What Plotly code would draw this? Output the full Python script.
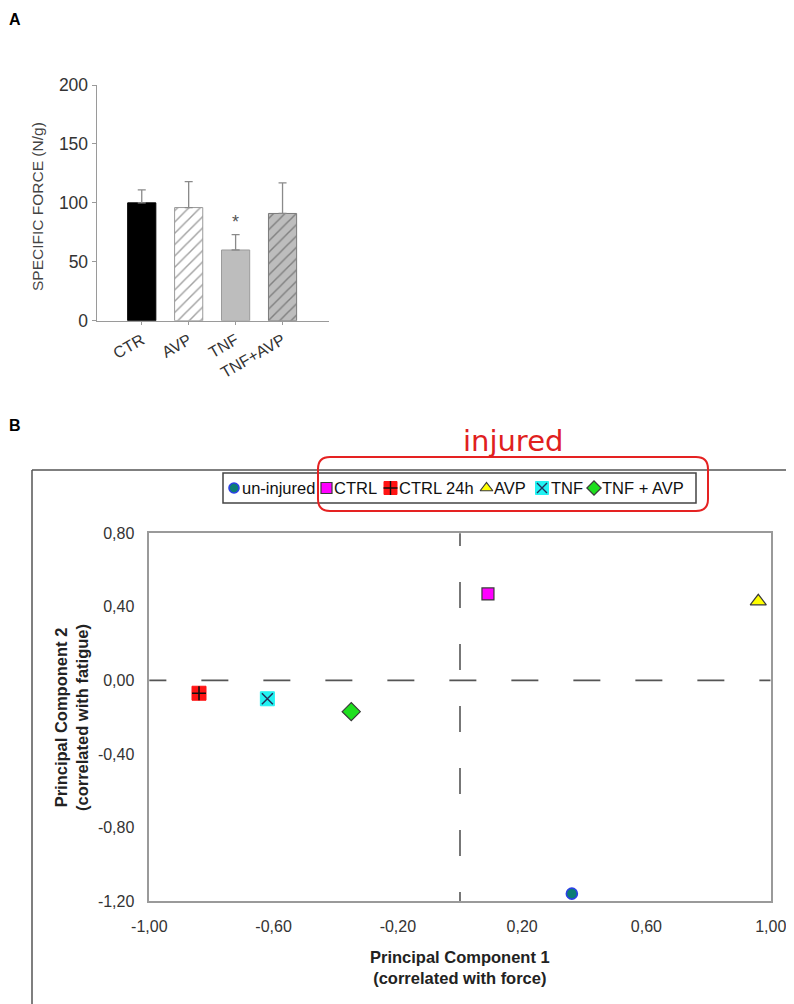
import plotly.graph_objects as go

# The page body adds an 8px margin; the figure is sized/placed so that the
# layout below can be written in reference-image pixel coordinates.
OFF = 8
W, H = 794 - OFF, 1004 - OFF


def px(x):
    return (x - OFF) / W


def py(y):
    return 1 - (y - OFF) / H


# ---------------- Panel A data ----------------
groups = ["CTR", "AVP", "TNF", "TNF+AVP"]
force_mean = [100, 96, 60, 91]
force_err = [11, 22, 13, 26]
force_ticks = [0, 50, 100, 150, 200]
signif_group = "TNF"
signif_y = 84

# ---------------- Panel B data ----------------
pca_names = ["un-injured", "CTRL", "CTRL 24h", "AVP", "TNF", "TNF + AVP"]
pc1 = [0.36, 0.09, -0.84, 0.96, -0.62, -0.35]
pc2 = [-1.16, 0.47, -0.07, 0.43, -0.10, -0.17]
pc1_ticks = [-1.0, -0.6, -0.2, 0.2, 0.6, 1.0]
pc1_ticktext = ["-1,00", "-0,60", "-0,20", "0,20", "0,60", "1,00"]
pc2_ticks = [0.8, 0.4, 0.0, -0.4, -0.8, -1.2]
pc2_ticktext = ["0,80", "0,40", "0,00", "-0,40", "-0,80", "-1,20"]

# ---------------- styles ----------------
bar_fill = ["#000000", "#ffffff", "#bdbdbd", "#bdbdbd"]
bar_line = ["#000000", "#9a9a9a", "#9a9a9a", "#7a7a7a"]
bar_pattern = ["", "/", "", "/"]
bar_pattern_fg = ["#000000", "#a0a0a0", "#bdbdbd", "#6a6a6a"]

pt_style = {
    "un-injured": dict(symbol="circle", color="#0b7d74", line="#2a40e6", lw=1.6, size=11),
    "CTRL": dict(symbol="square", color="#ff00ff", line="#3a3a3a", lw=1.2, size=12),
    "CTRL 24h": dict(symbol="square", color="#ff1414", line="#ff1414", lw=1, size=14),
    "AVP": dict(symbol="triangle-up", color="#ffff00", line="#3a3a3a", lw=1.2, size=14),
    "TNF": dict(symbol="square", color="#22f2f2", line="#22f2f2", lw=1, size=14),
    "TNF + AVP": dict(symbol="diamond", color="#1ee01e", line="#3a3a3a", lw=1.2, size=14),
}
overlay = {
    "CTRL 24h": dict(symbol="cross-thin", color="#111111", size=10, lw=1.6),
    "TNF": dict(symbol="x-thin", color="#22305a", size=11, lw=1.5),
}

fig = go.Figure()

# ---- Panel A bars ----
fig.add_trace(go.Bar(
    x=groups, y=force_mean,
    width=0.6,
    marker=dict(
        color=bar_fill,
        line=dict(color=bar_line, width=1),
        pattern=dict(shape=bar_pattern, fgcolor=bar_pattern_fg, bgcolor=bar_fill,
                     size=8, solidity=0.18),
    ),
    error_y=dict(type="data", array=force_err, arrayminus=[0] * len(force_err),
                 symmetric=False, color="#8a8a8a", thickness=1.3, width=4),
    xaxis="x", yaxis="y", showlegend=False,
))

# ---- Panel B scatter ----
for name, x, y in zip(pca_names, pc1, pc2):
    s = pt_style[name]
    fig.add_trace(go.Scatter(
        x=[x], y=[y], mode="markers", name=name,
        marker=dict(symbol=s["symbol"], color=s["color"], size=s["size"],
                    line=dict(color=s["line"], width=s["lw"])),
        xaxis="x2", yaxis="y2", showlegend=False,
    ))
    if name in overlay:
        o = overlay[name]
        fig.add_trace(go.Scatter(
            x=[x], y=[y], mode="markers",
            marker=dict(symbol=o["symbol"], color=o["color"], size=o["size"],
                        line=dict(color=o["color"], width=o["lw"])),
            xaxis="x2", yaxis="y2", showlegend=False, hoverinfo="skip",
        ))

# ---- custom legend (pixel-space axes) ----
leg_x0, leg_x1, leg_y0, leg_y1 = 223, 696, 473, 503
leg_sym_x = [234, 326.5, 390.5, 486.5, 542, 594]
leg_txt_x = [240, 332, 397, 492, 549, 600]
leg_sizes = [10, 11, 13, 11, 13, 11]
for i, name in enumerate(pca_names):
    s = pt_style[name]
    fig.add_trace(go.Scatter(
        x=[leg_sym_x[i]], y=[0.5], mode="markers",
        marker=dict(symbol=s["symbol"], color=s["color"], size=leg_sizes[i],
                    line=dict(color=s["line"], width=s["lw"])),
        xaxis="x3", yaxis="y3", showlegend=False, hoverinfo="skip",
    ))
    if name in overlay:
        o = overlay[name]
        fig.add_trace(go.Scatter(
            x=[leg_sym_x[i]], y=[0.5], mode="markers",
            marker=dict(symbol=o["symbol"], color=o["color"], size=leg_sizes[i] - 3,
                        line=dict(color=o["color"], width=1.4)),
            xaxis="x3", yaxis="y3", showlegend=False, hoverinfo="skip",
        ))

annotations = []
for i, name in enumerate(pca_names):
    annotations.append(dict(
        x=leg_txt_x[i], y=0.5, xref="x3", yref="y3", text=name, showarrow=False,
        xanchor="left", yanchor="middle",
        font=dict(family="Liberation Sans, Arial, sans-serif", size=16.5, color="#111111"),
    ))


def label(x, y, text, size, color, angle=0, family="Liberation Sans, Arial", xref="paper", yref="paper"):
    return dict(x=x, y=y, xref=xref, yref=yref, text=text, showarrow=False,
                textangle=angle, xanchor="center", yanchor="middle", align="center",
                font=dict(family=family, size=size, color=color))


annotations += [
    label(px(15), py(19), "<b>A</b>", 16, "#000"),
    label(px(15), py(425), "<b>B</b>", 16, "#000"),
    label(px(37), py(207), "SPECIFIC FORCE (N/g)", 15.5, "#444", angle=-90),
    label(signif_group, signif_y, "*", 18, "#555", xref="x", yref="y"),
    label(px(460), py(967.5), "<b>Principal Component 1</b><br><b>(correlated with force)</b>",
          16.5, "#222"),
    label(px(71), py(717), "<b>Principal Component 2</b><br><b>(correlated with fatigue)</b>",
          16.5, "#222", angle=-90),
    label(px(513), py(441), "injured", 29, "#e0201e", family="DejaVu Sans, sans-serif"),
]

# rounded rectangle path for "injured" bracket
rx0, rx1, ry0, ry1, r = 318, 708, 457, 511, 12


def P(x, y):
    return f"{px(x):.5f},{py(y):.5f}"


rr_path = (f"M {P(rx0 + r, ry0)} L {P(rx1 - r, ry0)} Q {P(rx1, ry0)} {P(rx1, ry0 + r)} "
           f"L {P(rx1, ry1 - r)} Q {P(rx1, ry1)} {P(rx1 - r, ry1)} "
           f"L {P(rx0 + r, ry1)} Q {P(rx0, ry1)} {P(rx0, ry1 - r)} "
           f"L {P(rx0, ry0 + r)} Q {P(rx0, ry0)} {P(rx0 + r, ry0)} Z")

shapes = [
    # outer frame of panel B
    dict(type="line", xref="paper", yref="paper", x0=px(32), x1=px(794), y0=py(470), y1=py(470),
         line=dict(color="#555", width=1.5)),
    dict(type="line", xref="paper", yref="paper", x0=px(32), x1=px(32), y0=py(470), y1=py(1004),
         line=dict(color="#555", width=1.5)),
    # legend box
    dict(type="rect", xref="paper", yref="paper", x0=px(leg_x0), x1=px(leg_x1),
         y0=py(leg_y1), y1=py(leg_y0), line=dict(color="#444", width=1.5)),
    # injured bracket
    dict(type="path", xref="paper", yref="paper", path=rr_path,
         line=dict(color="#e52222", width=2)),
    # zero reference lines
    dict(type="line", xref="x2", yref="y2", x0=-1.032, x1=1.0, y0=0, y1=0,
         line=dict(color="#555", width=1.6, dash="27px,35px")),
    dict(type="line", xref="x2", yref="y2", x0=0, x1=0, y0=0.872, y1=-1.2,
         line=dict(color="#555", width=1.6, dash="26px,36px")),
]

tickfont_a = dict(family="Liberation Sans, Arial", size=17.5, color="#333")
tickfont_b = dict(family="Liberation Sans, Arial", size=16, color="#333")

fig.update_layout(
    width=W, height=H,
    autosize=False,
    margin=dict(l=0, r=0, t=0, b=0, pad=0, autoexpand=False),
    paper_bgcolor="white", plot_bgcolor="white",
    showlegend=False,
    xaxis=dict(domain=[px(96.7), px(329)], anchor="y", type="category", automargin=False,
               range=[-0.96, 3.99], showline=True, linecolor="#9a9a9a", linewidth=1.2,
               ticks="outside", ticklen=3, tickcolor="#9a9a9a", tickangle=-30,
               tickfont=dict(family="Liberation Sans, Arial", size=16, color="#333"),
               showgrid=False, zeroline=False),
    yaxis=dict(domain=[py(320.7), py(85)], anchor="x", range=[0, 200], automargin=False,
               tickvals=force_ticks, showline=True, linecolor="#9a9a9a", linewidth=1.2,
               ticks="outside", ticklen=4, tickcolor="#9a9a9a", tickfont=tickfont_a,
               showgrid=False, zeroline=False),
    xaxis2=dict(domain=[px(149.3), px(770.7)], anchor="y2", range=[-1, 1], automargin=False,
                tickvals=pc1_ticks, ticktext=pc1_ticktext, tickfont=tickfont_b,
                ticks="outside", ticklen=10, tickcolor="rgba(0,0,0,0)",
                showline=True, mirror=True, linecolor="#9a9a9a", linewidth=1.5,
                showgrid=False, zeroline=False),
    yaxis2=dict(domain=[py(901), py(533.3)], anchor="x2", range=[-1.2, 0.8], automargin=False,
                tickvals=pc2_ticks, ticktext=pc2_ticktext, tickfont=tickfont_b,
                ticks="outside", ticklen=10, tickcolor="rgba(0,0,0,0)",
                showline=True, mirror=True, linecolor="#9a9a9a", linewidth=1.5,
                showgrid=False, zeroline=False),
    xaxis3=dict(domain=[px(leg_x0), px(leg_x1)], anchor="y3", range=[leg_x0, leg_x1],
                visible=False, fixedrange=True, automargin=False),
    yaxis3=dict(domain=[py(leg_y1), py(leg_y0)], anchor="x3", range=[0, 1],
                visible=False, fixedrange=True, automargin=False),
    shapes=shapes,
    annotations=annotations,
)

fig.write_html("out.html")
